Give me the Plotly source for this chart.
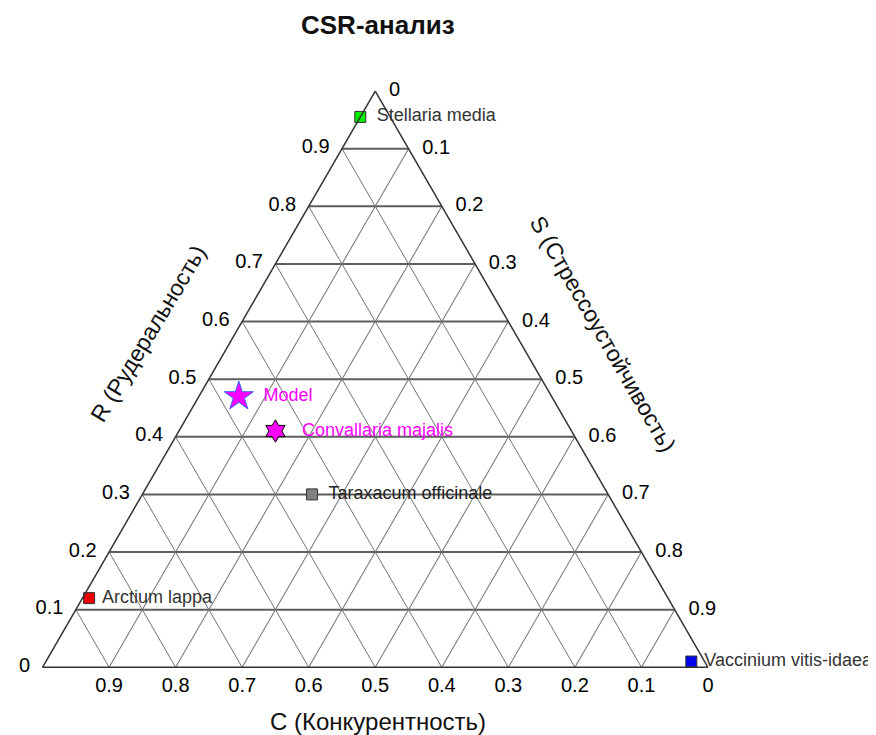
import plotly.graph_objects as go

# ---- data ----
species = ["Stellaria media", "Arctium lappa", "Vaccinium vitis-idaea",
           "Taraxacum officinale", "Convallaria majalis", "Model"]
R_vals = [0.955, 0.12, 0.01, 0.30, 0.41, 0.47]   # Рудеральность
C_vals = [0.045, 0.87, 0.02, 0.445, 0.445, 0.47]  # Конкурентность
S_vals = [0.00, 0.01, 0.97, 0.255, 0.145, 0.06]   # Стрессоустойчивость

tick_vals = [0, 0.1, 0.2, 0.3, 0.4, 0.5, 0.6, 0.7, 0.8, 0.9]
tick_text = ["0", "0.1", "0.2", "0.3", "0.4", "0.5", "0.6", "0.7", "0.8", "0.9"]

# ---- styles ----
fill_colors = ["#00ee00", "#ee0000", "#0000ee", "#808080", "#ff00ff", "#ff00ff"]
line_colors = ["#333333", "#333333", "#333333", "#333333", "#000000", "#3366ff"]
symbols = ["square", "square", "square", "square", "hexagram", "star"]
sizes = [11, 11, 11, 11, 17, 22]
text_colors = ["#333333", "#333333", "#333333", "#222222", "#ff00ff", "#ff00ff"]
label_gap = ["\u00a0\u2009", "\u00a0", "\u00a0", "\u00a0\u2009",
             "\u00a0\u00a0\u00a0", "\u00a0\u00a0"]   # gap between marker and label

FONT = "Liberation Sans, Arial, sans-serif"
OFF = 8  # page body margin offset (px)


def px_x(x):
    return (x - OFF) / 876


def px_y(y):
    return 1 - (y - OFF) / 735


fig = go.Figure()
for i, name in enumerate(species):
    fig.add_trace(go.Scatterternary(
        a=[R_vals[i]], b=[C_vals[i]], c=[S_vals[i]],
        mode="markers+text",
        text=[label_gap[i] + name],
        textposition="middle right",
        textfont=dict(family=FONT, size=18, color=text_colors[i]),
        marker=dict(symbol=symbols[i], size=sizes[i], color=fill_colors[i],
                    line=dict(color=line_colors[i], width=1)),
        showlegend=False,
        hoverinfo="skip",
        cliponaxis=False,
    ))

axis_common = dict(
    tickmode="array", tickvals=tick_vals, ticktext=tick_text,
    tickfont=dict(family=FONT, size=20, color="#000000"),
    showgrid=True, gridcolor="#737373", gridwidth=1,
    showline=True, linecolor="#333333", linewidth=1.5,
    title=dict(text=""), min=0,
)

fig.update_layout(
    width=876, height=735,
    margin=dict(l=0, r=0, t=0, b=0),
    paper_bgcolor="white",
    font=dict(family=FONT),
    ternary=dict(
        sum=1,
        bgcolor="white",
        domain=dict(x=[px_x(42.5), px_x(708)], y=[px_y(667.3), px_y(91)]),
        aaxis=dict(axis_common, ticks="outside", ticklen=9,
                   tickcolor="rgba(0,0,0,0)", gridcolor="#5e5e5e", gridwidth=1.5),
        baxis=dict(axis_common, ticks="", ticklen=0),
        caxis=dict(axis_common, ticks="", ticklen=0,
                   ticktext=["\u00a0\u00a0" + t for t in tick_text]),
    ),
    annotations=[
        dict(text="<b>CSR-анализ</b>", x=px_x(378), y=px_y(25),
             xref="paper", yref="paper", showarrow=False,
             xanchor="center", yanchor="middle",
             font=dict(family=FONT, size=26, color="#111111")),
        dict(text="C (Конкурентность)", x=px_x(378), y=px_y(721),
             xref="paper", yref="paper", showarrow=False,
             xanchor="center", yanchor="middle",
             font=dict(family=FONT, size=24, color="#111111")),
        dict(text="R (Рудеральность)", x=px_x(148), y=px_y(334),
             xref="paper", yref="paper", showarrow=False, textangle=-59,
             xanchor="center", yanchor="middle",
             font=dict(family=FONT, size=23, color="#111111")),
        dict(text="S (Стрессоустойчивость)", x=px_x(603), y=px_y(334),
             xref="paper", yref="paper", showarrow=False, textangle=60,
             xanchor="center", yanchor="middle",
             font=dict(family=FONT, size=23, color="#111111")),
    ],
)

fig.write_html("out.html")
